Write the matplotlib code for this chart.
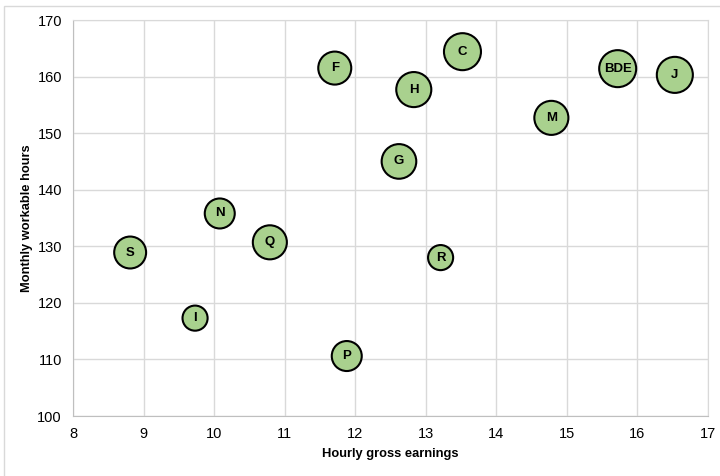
import matplotlib.pyplot as plt
from matplotlib.patches import Rectangle

# data
labels = ['S', 'I', 'N', 'Q', 'P', 'F', 'G', 'H', 'C', 'R', 'M', 'BDE', 'J']
earnings = [8.81, 9.73, 10.08, 10.79, 11.88, 11.71, 12.62, 12.83, 13.52, 13.21, 14.78, 15.72, 16.53]
hours = [128.9, 117.3, 135.8, 130.7, 110.6, 161.5, 145.0, 157.7, 164.4, 128.0, 152.7, 161.4, 160.3]
weight = [10.2, 6.3, 9.0, 11.6, 9.0, 10.9, 12.0, 12.3, 13.7, 6.3, 11.6, 13.7, 13.0]

plt.rcParams['font.family'] = ['Liberation Sans', 'DejaVu Sans']

fig = plt.figure(figsize=(7.2, 4.76), dpi=100)
ax = fig.add_axes([73/720, 1 - 416/476, 635/720, 396/476])

# outer chart border (only left/top visible)
fig.patches.append(Rectangle((4/720, -0.1), 1.2, 1 - 6/476 + 0.1, transform=fig.transFigure,
                             fill=False, edgecolor='#d9d9d9', linewidth=1.0))

sizes = [w * 51.8 for w in weight]
ax.scatter(earnings, hours, s=sizes, c='#a9d18e', edgecolors='black', linewidths=1.5, zorder=3)
for x, y, t in zip(earnings, hours, labels):
    ax.text(x, y, t, ha='center', va='center', fontsize=9.5, fontweight='bold', zorder=4)

ax.set_xlim(8, 17)
ax.set_ylim(100, 170)
ax.set_xticks(range(8, 18))
ax.set_yticks(range(100, 171, 10))
ax.grid(True, color='#d9d9d9', linewidth=1.0)
ax.set_axisbelow(True)
for s in ax.spines.values():
    s.set_color('#d9d9d9')
ax.spines['left'].set_color('#bfbfbf')
ax.spines['bottom'].set_color('#bfbfbf')
ax.tick_params(length=0, labelsize=10.5, pad=8)
ax.set_xlabel('Hourly gross earnings', fontsize=9.3, fontweight='bold', labelpad=5)
ax.set_ylabel('Monthly workable hours', fontsize=9.3, fontweight='bold', labelpad=3)

fig.savefig('out.png', dpi=100)
